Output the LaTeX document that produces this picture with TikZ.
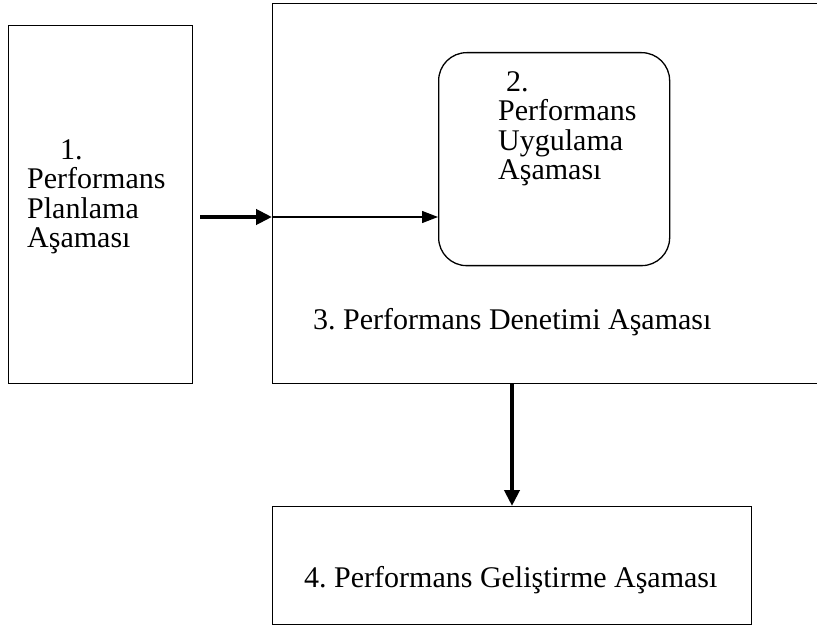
\documentclass[tikz,border=0pt]{standalone}
\usepackage{fontspec}
\setmainfont{Liberation Serif}
\usetikzlibrary{positioning,arrows.meta}
\tikzset{
  stagebox/.style={draw, line width=1.3pt, anchor=north west, inner sep=0pt},
  stagetext/.style={font=\fontsize{30}{29.5}\selectfont\frenchspacing, inner sep=0pt, align=left, anchor=north west},
  heavyarrow/.style={line width=4.5pt, -{Triangle[length=16pt,width=15pt]}},
  lightarrow/.style={line width=1.3pt, -{Triangle[length=16pt,width=12pt]}}
}
\begin{document}
\begin{tikzpicture}[x=1pt,y=-1pt]
    \useasboundingbox (0,0) rectangle (817,631);
    \clip (0,0) rectangle (817,631);
    % Stage boxes
    \node[stagebox, minimum width=184pt, minimum height=358pt] (plan) at (8,25) {};
    \node[stagebox, minimum width=560pt, minimum height=380pt] (audit) at (272,3) {};
    \node[stagebox, rounded corners=28pt, minimum width=231pt, minimum height=213pt] (impl) at (438,52) {};
    \node[stagebox, minimum width=479pt, minimum height=118pt] (devel) at (272,506) {};

    % Texts
    \node[stagetext] (plantext) at (27,139) {\hspace*{33pt}1.\\Performans\\Planlama\\Aşaması};
    \node[stagetext] (impltext) at (498,71) {\hspace*{8pt}2.\\Performans\\Uygulama\\Aşaması};
    \node[stagetext, anchor=west] (audittext) at (313,322) {3. Performans Denetimi Aşaması};
    \node[stagetext, anchor=west] (develtext) at (304,580) {4. Performans Geliştirme Aşaması};

    % Arrows
    \coordinate (start) at (200,217);
    \coordinate (down) at (512,383);
    \draw[heavyarrow] (start) -- (start -| audit.west);
    \draw[lightarrow] (start -| audit.west) -- (start -| impl.west);
    \draw[heavyarrow] (down) -- (down |- devel.north);
\end{tikzpicture}
\end{document}
